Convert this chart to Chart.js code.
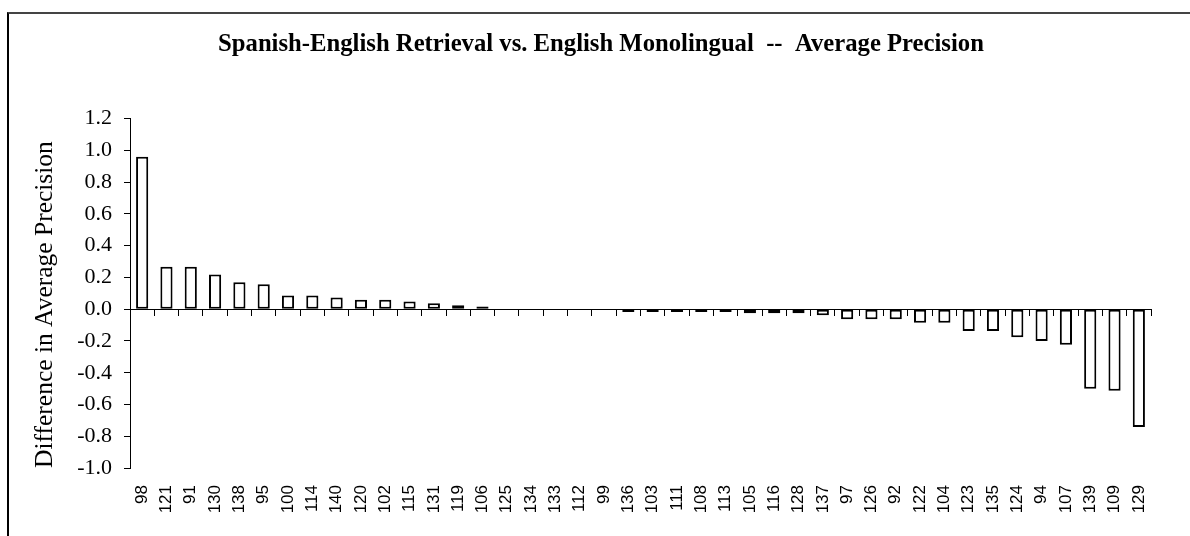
<!DOCTYPE html>
<html>
<head>
<meta charset="utf-8">
<script src="https://cdn.jsdelivr.net/npm/chart.js@4/dist/chart.umd.min.js"></script>
<style>
  html, body { margin: 0; padding: 0; background: #fff; overflow: hidden; }
  #wrap { position: relative; width: 1190px; height: 536px; }
  #frame { position: absolute; left: 7px; top: 12px; width: 1200px; height: 600px;
           border-top: 2px solid #444; border-left: 2px solid #000; pointer-events: none; }
  canvas { position: absolute; left: 0; top: 0; }
</style>
</head>
<body>
<div id="wrap">
  <canvas id="c" width="1190" height="536"></canvas>
  <div id="frame"></div>
</div>
<script>
const chartTitle = 'Spanish-English Retrieval vs. English Monolingual  --  Average Precision';
const yAxisTitle = 'Difference in Average Precision';
const categories = ['98','121','91','130','138','95','100','114','140','120','102','115','131','119','106','125','134','133','112','99','136','103','111','108','113','105','116','128','137','97','126','92','122','104','123','135','124','94','107','139','109','129'];
const values = [0.96,0.268,0.268,0.218,0.17,0.157,0.086,0.086,0.073,0.06,0.06,0.048,0.037,0.025,0.017,0,0,0,0,0,-0.017,-0.017,-0.017,-0.017,-0.017,-0.025,-0.025,-0.025,-0.038,-0.063,-0.063,-0.063,-0.086,-0.086,-0.138,-0.138,-0.176,-0.2,-0.224,-0.501,-0.514,-0.742];
const yMin = -1.0;
const yMax = 1.2;
const yStep = 0.2;

new Chart(document.getElementById('c'), {
  type: 'bar',
  data: {
    labels: categories,
    datasets: [{
      data: values,
      backgroundColor: '#ffffff',
      borderColor: '#000000',
      borderWidth: 2,
      borderSkipped: false,
      barPercentage: 0.5,
      categoryPercentage: 1.0
    }]
  },
  options: {
    responsive: false,
    animation: false,
    devicePixelRatio: 1,
    layout: { padding: { left: 12, right: 0, top: 0, bottom: 0 } },
    plugins: {
      legend: { display: false },
      tooltip: { enabled: false },
      title: {
        display: true,
        text: chartTitle,
        color: '#000',
        font: { family: 'Liberation Serif', size: 24.7, weight: 'bold' },
        padding: { top: 30, bottom: 59 }
      }
    },
    scales: {
      x: {
        type: 'category',
        position: 'bottom',
        offset: true,
        grid: { display: false, drawTicks: false },
        border: { display: false },
        ticks: {
          autoSkip: false,
          maxRotation: 90,
          minRotation: 90,
          padding: 17,
          color: '#000',
          font: { family: 'Liberation Sans', size: 17 }
        },
        afterFit: s => { s.height = 68; s.paddingRight = 39; }
      },
      xz: {
        type: 'category',
        position: { y: 0 },
        offset: true,
        grid: { display: true, offset: true, drawOnChartArea: false, drawTicks: true, tickLength: 6, color: '#000', lineWidth: 1 },
        border: { display: true, color: '#000', width: 1 },
        ticks: { display: false }
      },
      y: {
        type: 'linear',
        position: 'left',
        min: yMin,
        max: yMax,
        grid: { display: true, drawOnChartArea: false, drawTicks: true, tickLength: 6, color: '#000', lineWidth: 1 },
        border: { display: true, color: '#000', width: 1 },
        ticks: {
          stepSize: yStep,
          padding: 12,
          color: '#000',
          font: { family: 'Liberation Serif', size: 22 },
          callback: v => (Math.abs(v) < 1e-9 ? 0 : v).toFixed(1)
        },
        title: {
          display: true,
          text: yAxisTitle,
          align: 'start',
          color: '#000',
          font: { family: 'Liberation Serif', size: 25.5 },
          padding: { top: 18, bottom: 0 }
        },
        afterFit: s => { s.width = 118; }
      }
    }
  }
});
</script>
</body>
</html>
